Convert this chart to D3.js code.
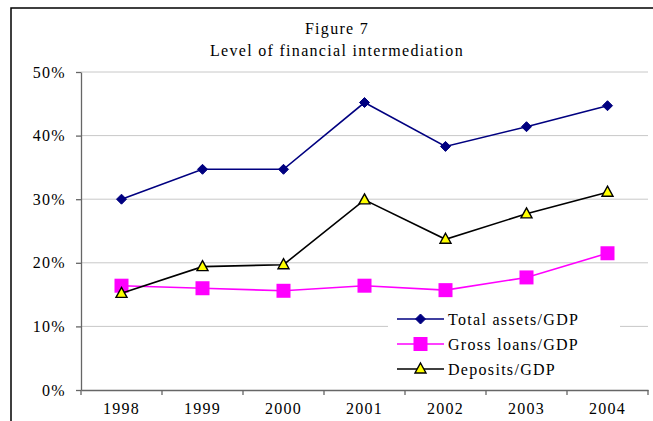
<!DOCTYPE html>
<html>
<head>
<meta charset="utf-8">
<script src="https://cdn.jsdelivr.net/npm/d3@7"></script>
<style>
  body { margin: 0; background: #fff; }
  svg text { font-family: "Liberation Serif", "Times New Roman", serif; font-size: 16px; letter-spacing: 1.3px; fill: #000; }
</style>
</head>
<body>
<svg id="chart" width="653" height="421"></svg>
<script>
// data
var years = ["1998", "1999", "2000", "2001", "2002", "2003", "2004"];
var totalAssets = [0.300, 0.347, 0.347, 0.452, 0.383, 0.414, 0.447];
var grossLoans  = [0.164, 0.160, 0.156, 0.164, 0.157, 0.177, 0.215];
var deposits    = [0.152, 0.194, 0.197, 0.299, 0.237, 0.277, 0.311];
var yTicks = [0, 0.1, 0.2, 0.3, 0.4, 0.5];
var titleLines = ["Figure 7", "Level of financial intermediation"];

var series = [
  { name: "Total assets/GDP", values: totalAssets, color: "#000080", marker: "diamond" },
  { name: "Gross loans/GDP",  values: grossLoans,  color: "#ff00ff", marker: "square" },
  { name: "Deposits/GDP",     values: deposits,    color: "#000000", marker: "triangle" }
];

var svg = d3.select("#chart");

// outer frame (only left & top edges are visible in the crop)
svg.append("rect")
  .attr("x", 11).attr("y", 8)
  .attr("width", 700).attr("height", 500)
  .attr("fill", "none").attr("stroke", "#000").attr("stroke-width", 1.5);

// titles
svg.selectAll("text.title")
  .data(titleLines)
  .enter().append("text")
  .attr("class", "title")
  .attr("x", 337)
  .attr("y", function(d, i) { return 34 + i * 22; })
  .attr("text-anchor", "middle")
  .text(function(d) { return d; });

var x = d3.scaleBand().domain(years).range([81, 648]).padding(0);
var y = d3.scaleLinear().domain([0, 0.5]).range([390, 72]);

// gridlines
svg.append("g")
  .selectAll("line")
  .data(yTicks.slice(1))
  .enter().append("line")
  .attr("x1", 81).attr("x2", 648)
  .attr("y1", function(d) { return y(d); })
  .attr("y2", function(d) { return y(d); })
  .attr("stroke", "#c8c8c8").attr("stroke-width", 1);

// y axis
var yAxis = svg.append("g")
  .attr("transform", "translate(81,0)")
  .call(d3.axisLeft(y).tickValues(yTicks).tickFormat(d3.format(".0%")).tickSize(5).tickPadding(10).tickSizeOuter(0));
yAxis.select(".domain").attr("stroke", "#666").attr("stroke-width", 1.3);
yAxis.selectAll(".tick line").attr("stroke", "#666").attr("stroke-width", 1.3);
yAxis.selectAll("text").attr("font-size", null).attr("font-family", null);

// x axis: labels centred in bands, ticks on band boundaries
var xAxis = svg.append("g")
  .attr("transform", "translate(0,390)")
  .call(d3.axisBottom(x).tickSize(0).tickPadding(13).tickSizeOuter(0));
xAxis.select(".domain").attr("stroke", "#666").attr("stroke-width", 1.3);
xAxis.selectAll("text").attr("font-size", null).attr("font-family", null);
xAxis.selectAll("line.bound")
  .data(years.map(function(d) { return x(d); }).concat([x.range()[1]]))
  .enter().append("line")
  .attr("class", "bound")
  .attr("x1", function(d) { return d; }).attr("x2", function(d) { return d; })
  .attr("y1", 0).attr("y2", 5)
  .attr("stroke", "#666").attr("stroke-width", 1.3);

// markers
function drawMarker(g, type, color) {
  if (type === "diamond") {
    g.append("path").attr("d", "M0,-5L5,0L0,5L-5,0Z").attr("fill", color).attr("stroke", color);
  } else if (type === "square") {
    g.append("rect").attr("x", -7).attr("y", -7).attr("width", 14).attr("height", 14).attr("fill", color);
  } else {
    g.append("path").attr("d", "M0,-6L5.5,4L-5.5,4Z").attr("fill", "#ffff00")
      .attr("stroke", "#000").attr("stroke-width", 1.4).attr("stroke-linejoin", "miter");
  }
}

var line = d3.line()
  .x(function(d, i) { return x(years[i]) + x.bandwidth() / 2; })
  .y(function(d) { return y(d); });

series.forEach(function(s) {
  svg.append("path")
    .datum(s.values)
    .attr("d", line)
    .attr("fill", "none")
    .attr("stroke", s.color)
    .attr("stroke-width", 1.6);
  s.values.forEach(function(v, i) {
    var g = svg.append("g")
      .attr("transform", "translate(" + (x(years[i]) + x.bandwidth() / 2) + "," + y(v) + ")");
    drawMarker(g, s.marker, s.color);
  });
});

// legend
var legend = svg.append("g");
legend.append("rect")
  .attr("x", 388).attr("y", 304).attr("width", 232).attr("height", 78)
  .attr("fill", "#fff");
series.forEach(function(s, i) {
  var row = legend.append("g").attr("transform", "translate(0," + (319 + i * 25) + ")");
  row.append("line")
    .attr("x1", 397).attr("x2", 444).attr("y1", 0).attr("y2", 0)
    .attr("stroke", s.color).attr("stroke-width", 1.6);
  drawMarker(row.append("g").attr("transform", "translate(420.5,0)"), s.marker, s.color);
  row.append("text")
    .attr("x", 448).attr("y", 0).attr("dy", "0.35em")
    .text(s.name);
});
</script>
</body>
</html>
